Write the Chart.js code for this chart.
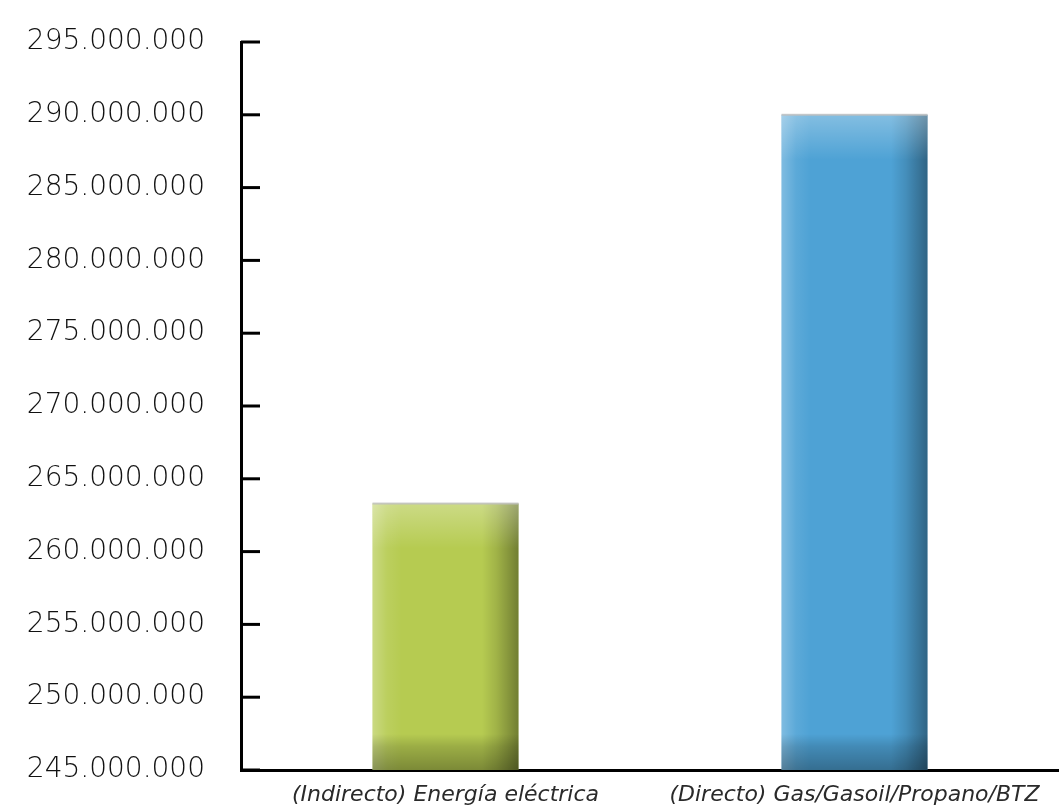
<!DOCTYPE html>
<html>
<head>
<meta charset="utf-8">
<script src="https://cdn.jsdelivr.net/npm/chart.js@4/dist/chart.umd.min.js"></script>
<style>
  html, body { margin: 0; padding: 0; background: #fff; overflow: hidden; }
  #wrap { width: 1059px; height: 810px; }
</style>
</head>
<body>
<div id="wrap"><canvas id="energyChart"></canvas></div>
<script>
// chart data
var categories = ["(Indirecto) Energía eléctrica", "(Directo) Gas/Gasoil/Propano/BTZ"];
var values = [263300000, 290000000];
var barColors = ["#b6cb51", "#4ea2d5"];
var yTicks = [245000000, 250000000, 255000000, 260000000, 265000000, 270000000,
  275000000, 280000000, 285000000, 290000000, 295000000];

function formatNumber(v) {
  return String(v).replace(/\B(?=(\d{3})+(?!\d))/g, ".");
}

// glossy shading on each bar + inward tick marks on the y axis
var shadePlugin = {
  id: "shade",
  afterDatasetsDraw: function (chart) {
    var ctx = chart.ctx;
    var area = chart.chartArea;
    var meta = chart.getDatasetMeta(0);
    ctx.save();
    ctx.beginPath();
    ctx.rect(area.left, area.top - 3, area.right - area.left, area.bottom - area.top + 3);
    ctx.clip();
    meta.data.forEach(function (el) {
      var p = el.getProps(["x", "y", "base", "width"], true);
      var left = p.x - p.width / 2;
      var right = p.x + p.width / 2;
      var base = Math.min(p.base, area.bottom);
      var h = base - p.y;

      var hg = ctx.createLinearGradient(left, 0, right, 0);
      hg.addColorStop(0, "rgba(255,255,255,0.28)");
      hg.addColorStop(0.1, "rgba(255,255,255,0.08)");
      hg.addColorStop(0.2, "rgba(255,255,255,0)");
      hg.addColorStop(0.75, "rgba(0,0,0,0)");
      hg.addColorStop(0.85, "rgba(0,0,0,0.12)");
      hg.addColorStop(1, "rgba(0,0,0,0.38)");
      ctx.fillStyle = hg;
      ctx.fillRect(left, p.y, p.width, h);

      var tg = ctx.createLinearGradient(0, p.y, 0, p.y + 45);
      tg.addColorStop(0, "rgba(255,255,255,0.3)");
      tg.addColorStop(1, "rgba(255,255,255,0)");
      ctx.fillStyle = tg;
      ctx.fillRect(left, p.y, p.width, Math.min(45, h));

      var bg = ctx.createLinearGradient(0, base - 36, 0, base);
      bg.addColorStop(0, "rgba(0,0,0,0)");
      bg.addColorStop(0.35, "rgba(0,0,0,0.15)");
      bg.addColorStop(1, "rgba(0,0,0,0.32)");
      ctx.fillStyle = bg;
      ctx.fillRect(left, base - 36, p.width, 36);

      ctx.fillStyle = "rgba(190,190,190,0.8)";
      ctx.fillRect(left, p.y - 1, p.width, 2);
    });
    ctx.restore();

    var yScale = chart.scales.y;
    ctx.save();
    ctx.strokeStyle = "#000";
    ctx.lineWidth = 3;
    yScale.ticks.forEach(function (t) {
      var py = yScale.getPixelForValue(t.value);
      ctx.beginPath();
      ctx.moveTo(area.left, py);
      ctx.lineTo(area.left + 19, py);
      ctx.stroke();
    });
    ctx.restore();
  }
};

var ctx = document.getElementById("energyChart").getContext("2d");
var myChart = new Chart(ctx, {
  type: "bar",
  data: {
    labels: categories,
    datasets: [
      {
        data: values,
        backgroundColor: barColors,
        borderWidth: 0,
        barPercentage: 0.357,
        categoryPercentage: 1
      }
    ]
  },
  options: {
    responsive: true,
    maintainAspectRatio: false,
    animation: false,
    layout: { padding: { top: 42, right: 0, left: 0, bottom: 0 } },
    plugins: {
      legend: { display: false },
      tooltip: { enabled: false }
    },
    scales: {
      x: {
        grid: { drawOnChartArea: false, drawTicks: false },
        border: { color: "#000", width: 3 },
        ticks: {
          padding: 12,
          color: "#2a2a2a",
          maxRotation: 0,
          autoSkip: false,
          font: { family: "DejaVu Sans", size: 22, style: "italic", weight: 300 }
        },
        afterFit: function (scale) { scale.height = 40; }
      },
      y: {
        min: 245000000,
        max: 295000000,
        grid: {
          drawOnChartArea: false,
          drawTicks: true,
          tickLength: 36,
          tickColor: "rgba(0,0,0,0)"
        },
        border: { color: "#000", width: 3 },
        afterBuildTicks: function (scale) {
          scale.ticks = yTicks.map(function (v) { return { value: v }; });
        },
        ticks: {
          padding: 0,
          color: "#111",
          font: { family: "DejaVu Sans", size: 28, weight: 300 },
          callback: function (value) { return formatNumber(value); }
        },
        afterFit: function (scale) { scale.width = 241; }
      }
    }
  },
  plugins: [shadePlugin]
});
</script>
</body>
</html>
